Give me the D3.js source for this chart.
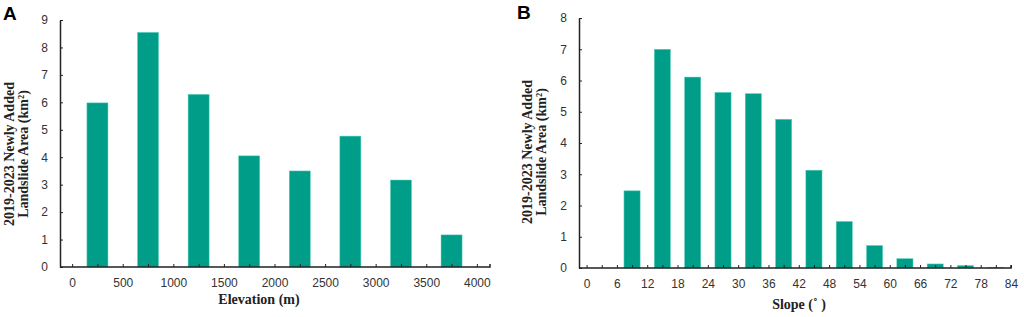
<!DOCTYPE html>
<html>
<head>
<meta charset="utf-8">
<script src="https://cdn.jsdelivr.net/npm/d3@7"></script>
<style>
  body { margin: 0; background: #fff; }
  svg { display: block; }
  .tick text { font-family: "Liberation Sans", Arial, sans-serif; font-size: 12px; fill: #333; }
  .title { font-family: "Liberation Serif", "Times New Roman", serif; font-weight: bold; font-size: 14px; fill: #222; }
  .panel { font-family: "Liberation Sans", Arial, sans-serif; font-weight: bold; font-size: 19px; fill: #000; }
</style>
</head>
<body>
<div id="chart"></div>
<script>
// Panel A: elevation bins (midpoints), landslide area
const elevMid = [250, 750, 1250, 1750, 2250, 2750, 3250, 3750];
const elevArea = [5.98, 8.55, 6.29, 4.05, 3.5, 4.77, 3.17, 1.17];
const elevTicks = [0, 500, 1000, 1500, 2000, 2500, 3000, 3500, 4000];
const elevYTicks = [0, 1, 2, 3, 4, 5, 6, 7, 8, 9];

// Panel B: slope bins (midpoints), landslide area
const slopeMid = [3, 9, 15, 21, 27, 33, 39, 45, 51, 57, 63, 69, 75, 81];
const slopeArea = [0, 2.47, 7.0, 6.11, 5.62, 5.58, 4.76, 3.13, 1.49, 0.72, 0.3, 0.13, 0.08, 0.02];
const slopeTicks = [0, 6, 12, 18, 24, 30, 36, 42, 48, 54, 60, 66, 72, 78, 84];
const slopeYTicks = [0, 1, 2, 3, 4, 5, 6, 7, 8];

const barColor = "#009e89";
const axisColor = "#222";

const svg = d3.select("#chart").append("svg")
    .attr("width", 1024)
    .attr("height", 317);

function drawPanel(cfg) {
    let g = svg.append("g");

    let x = d3.scaleLinear().domain(cfg.xDomain).range(cfg.xRange);
    let y = d3.scaleLinear().domain(cfg.yDomain).range(cfg.yRange);

    // bars
    g.selectAll("rect.bar")
        .data(cfg.mid.map((m, i) => [m, cfg.values[i]]))
        .join("rect")
        .attr("class", "bar")
        .attr("x", d => x(d[0] - cfg.halfWidth))
        .attr("width", d => x(d[0] + cfg.halfWidth) - x(d[0] - cfg.halfWidth))
        .attr("y", d => y(d[1]))
        .attr("height", d => y(0) - y(d[1]))
        .attr("fill", barColor)
        .attr("stroke", "#5fd3c0")
        .attr("stroke-width", 0.5);

    // x axis
    let xAxis = d3.axisBottom(x)
        .tickValues(cfg.xTickValues)
        .tickFormat(d => cfg.xLabels.includes(d) ? d : "")
        .tickSizeInner(-3)
        .tickSizeOuter(0)
        .tickPadding(11);
    let xg = g.append("g")
        .attr("transform", "translate(0," + y(0) + ")")
        .call(xAxis);
    xg.select(".domain").attr("stroke", axisColor).attr("stroke-width", 1.5)
        .attr("d", "M" + cfg.xRange[0] + ",0H" + cfg.xRange[1] + "V-3");
    xg.selectAll(".tick line").attr("stroke", axisColor);

    // y axis
    let yAxis = d3.axisLeft(y)
        .tickValues(cfg.yTicks)
        .tickSizeInner(-3)
        .tickSizeOuter(0)
        .tickPadding(12);
    let yg = g.append("g")
        .attr("transform", "translate(" + cfg.xRange[0] + ",0)")
        .call(yAxis);
    yg.select(".domain").attr("stroke", axisColor).attr("stroke-width", 1.5);
    yg.selectAll(".tick line").attr("stroke", axisColor);

    // x title
    g.append("text")
        .attr("class", "title")
        .attr("x", cfg.xTitlePos[0])
        .attr("y", cfg.xTitlePos[1])
        .attr("text-anchor", "middle")
        .text(cfg.xTitle);

    // y title (two lines, rotated)
    let yt = g.append("text")
        .attr("class", "title")
        .attr("transform", "translate(" + cfg.yTitlePos[0] + "," + cfg.yTitlePos[1] + ") rotate(-90)")
        .attr("text-anchor", "middle");
    yt.append("tspan").attr("x", 0).attr("y", 0).text("2019-2023 Newly Added");
    yt.append("tspan").attr("x", 0).attr("y", 14).text("Landslide Area (km²)");

    // panel letter
    g.append("text")
        .attr("class", "panel")
        .attr("x", cfg.letterPos[0])
        .attr("y", cfg.letterPos[1])
        .text(cfg.letter);
}

drawPanel({
    mid: elevMid, values: elevArea, halfWidth: 104,
    xDomain: [-120, 4130], xRange: [60, 490],
    yDomain: [0, 9], yRange: [267, 20],
    xTickValues: d3.range(0, 4001, 250), xLabels: elevTicks, yTicks: elevYTicks,
    xTitle: "Elevation (m)", xTitlePos: [259, 304],
    yTitlePos: [14, 154], letter: "A", letterPos: [3, 20]
});

drawPanel({
    mid: slopeMid, values: slopeArea, halfWidth: 1.6,
    xDomain: [-1.5, 84], xRange: [579, 1011],
    yDomain: [0, 8], yRange: [268, 18],
    xTickValues: d3.range(0, 85, 3), xLabels: slopeTicks, yTicks: slopeYTicks,
    xTitle: "Slope (˚  )", xTitlePos: [799, 309],
    yTitlePos: [532, 152], letter: "B", letterPos: [517, 19]
});
</script>
</body>
</html>
